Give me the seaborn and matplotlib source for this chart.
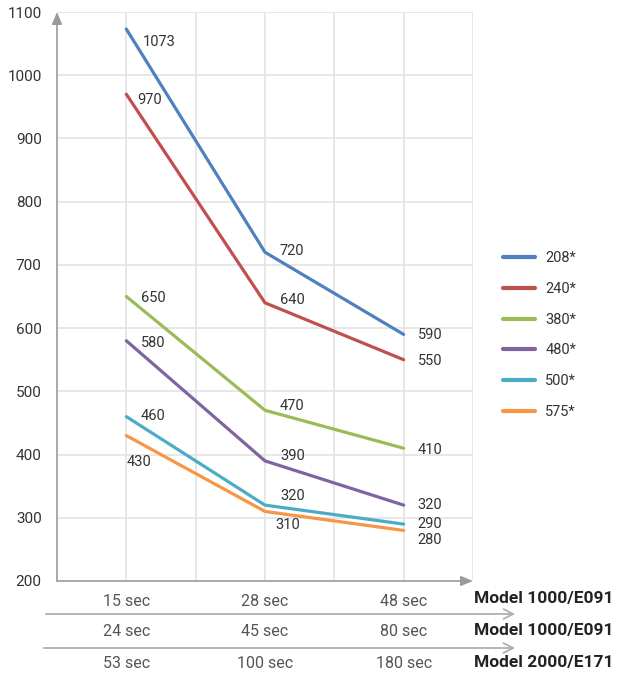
import matplotlib
matplotlib.use("Agg")
import matplotlib.pyplot as plt
import seaborn as sns
import pandas as pd
import numpy as np

# ---- data ----
times_row1 = ["15 sec", "28 sec", "48 sec"]
times_row2 = ["24 sec", "45 sec", "80 sec"]
times_row3 = ["53 sec", "100 sec", "180 sec"]
models = ["Model 1000/E091", "Model 1000/E091", "Model 2000/E171"]
series_names = ["208*", "240*", "380*", "480*", "500*", "575*"]
v208 = [1073, 720, 590]
v240 = [970, 640, 550]
v380 = [650, 470, 410]
v480 = [580, 390, 320]
v500 = [460, 320, 290]
v575 = [430, 310, 280]
all_values = [v208, v240, v380, v480, v500, v575]
y_ticks = [200, 300, 400, 500, 600, 700, 800, 900, 1000, 1100]

colors = ["#4F81BD", "#C0504D", "#9BBB59", "#8064A2", "#4BACC6", "#F79646"]

# label offsets in pixels (dx, dy) -- style only
label_offsets = [
    [(16, -13), (15, 1), (14, -1)],
    [(11, -6), (15, 3), (14, -1)],
    [(15, -2), (15, 4), (14, -2)],
    [(15, -2), (15, 5), (14, 0)],
    [(14, 1), (15, 9), (14, 0)],
    [(0, -26), (10, -14), (14, -10)],
]

rows = []
for name, vals in zip(series_names, all_values):
    for i, v in enumerate(vals):
        rows.append({"series": name, "x": i, "value": v})
df = pd.DataFrame(rows)

sns.set_theme(style="white")
plt.rcParams["font.family"] = ["Roboto", "DejaVu Sans"]

W, H = 628, 673
fig = plt.figure(figsize=(W / 100, H / 100), dpi=100)
ax = fig.add_axes([57 / W, 1 - 581 / H, (473 - 57) / W, (581 - 12) / H])

sns.lineplot(data=df, x="x", y="value", hue="series", palette=colors,
             hue_order=series_names, linewidth=2.3, ax=ax, legend=True,
             sort=False)

ax.set_xlim(-0.5, 2.5)
ax.set_ylim(200, 1100)
ax.set_xlabel("")
ax.set_ylabel("")

# grid
ax.set_yticks(y_ticks)
ax.set_xticks(range(len(times_row1)))
ax.grid(False)
for xv in np.arange(0, 2.6, 0.5):
    ax.axvline(xv, color="#e3e3e3", lw=1.2, zorder=0)
for yv in y_ticks[1:]:
    ax.axhline(yv, color="#e3e3e3", lw=1.2, zorder=0)

ax.set_yticklabels([str(t) for t in y_ticks], fontsize=11, color="#333333")
ax.set_xticklabels(times_row1, fontsize=11.5, color="#555555")
ax.tick_params(axis="both", length=0)
ax.tick_params(axis="y", pad=11)
ax.tick_params(axis="x", pad=9)
for s in ax.spines.values():
    s.set_visible(False)

# axis arrows
ax.annotate("", xy=(0, 1.0), xytext=(0, 0), xycoords="axes fraction",
            arrowprops=dict(arrowstyle="-|>,head_length=0.6,head_width=0.25",
                            color="#9a9a9a", lw=1.2, shrinkA=0, shrinkB=0),
            annotation_clip=False)
ax.annotate("", xy=(1.0, 0), xytext=(0, 0), xycoords="axes fraction",
            arrowprops=dict(arrowstyle="-|>,head_length=0.6,head_width=0.25",
                            color="#9a9a9a", lw=1.2, shrinkA=0, shrinkB=0),
            annotation_clip=False)

# data labels
for vals, offs in zip(all_values, label_offsets):
    for i, (v, (dx, dy)) in enumerate(zip(vals, offs)):
        ax.annotate(str(v), xy=(i, v), xytext=(dx, dy), textcoords="offset pixels",
                    ha="left", va="center", fontsize=10.5, color="#333333")

# extra rows of time labels
def fy(py):
    return 1 - py / H

for i in range(3):
    xd = ax.transData.transform((i, 0))[0] / W
    fig.text(xd, fy(631), times_row2[i], ha="center", va="center",
             fontsize=11.5, color="#555555")
    fig.text(xd, fy(663), times_row3[i], ha="center", va="center",
             fontsize=11.5, color="#555555")

for py, m in zip([598, 630, 662], models):
    fig.text(613 / W, fy(py), m, ha="right", va="center", fontsize=12.5,
             fontweight="bold", color="#222222")

for py, x0 in [(614, 43), (648, 41)]:
    fig.add_artist(matplotlib.patches.FancyArrowPatch(
        (x0 / W, fy(py)), (518 / W, fy(py)), transform=fig.transFigure,
        arrowstyle="->,head_length=0.7,head_width=0.35", color="#b0b0b0",
        lw=1.3, mutation_scale=10))

# legend
handles, labels = ax.get_legend_handles_labels()
for h in handles:
    h.set_linewidth(3)
ax.legend(handles, labels, loc="center left",
          bbox_to_anchor=(503 / W, fy(335)), bbox_transform=fig.transFigure,
          frameon=False, fontsize=10.5, handlelength=2.2, handletextpad=0.7,
          labelspacing=1.15, borderpad=0, borderaxespad=0)
for t in ax.get_legend().get_texts():
    t.set_color("#333333")

fig.savefig("out.png", dpi=100)
